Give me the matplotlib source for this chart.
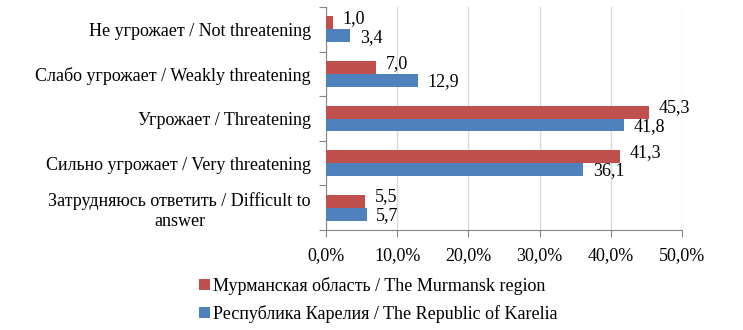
import matplotlib
matplotlib.use("Agg")
import matplotlib.pyplot as plt
import numpy as np

categories = ["Не угрожает / Not threatening",
              "Слабо угрожает / Weakly threatening",
              "Угрожает / Threatening",
              "Сильно угрожает / Very threatening",
              "Затрудняюсь ответить / Difficult to\nanswer"]
murmansk = [1.0, 7.0, 45.3, 41.3, 5.5]
karelia = [3.4, 12.9, 41.8, 36.1, 5.7]
series_names = ["Мурманская область / The Murmansk region",
                "Республика Карелия / The Republic of Karelia"]
xticks = [0, 10, 20, 30, 40, 50]

plt.rcParams['font.family'] = ['Liberation Serif', 'DejaVu Serif']
fs = 13
red = '#C0504D'
blue = '#4F81BD'
gray = '#868686'

fig = plt.figure(figsize=(7.43, 3.30), dpi=100)
ax = fig.add_axes([326/743, 1-230/330, (682-326)/743, (230-7)/330])

y = np.arange(len(categories))
h = 0.29
b1 = ax.barh(y - h/2, murmansk, height=h, color=red, label=series_names[0], zorder=3)
b2 = ax.barh(y + h/2, karelia, height=h, color=blue, label=series_names[1], zorder=3)

for yi, v in zip(y, murmansk):
    ax.annotate(f"{v:.1f}".replace('.', ','), (v, yi - h/2), xytext=(7, 3),
                textcoords='offset points', va='center', ha='left', fontsize=fs)
for yi, v in zip(y, karelia):
    ax.annotate(f"{v:.1f}".replace('.', ','), (v, yi + h/2), xytext=(7, -1),
                textcoords='offset points', va='center', ha='left', fontsize=fs)

ax.set_xlim(0, 50)
ax.set_ylim(4.5, -0.5)
ax.set_xticks(xticks)
ax.set_xticklabels([f"{t:.1f}%".replace('.', ',') for t in xticks], fontsize=fs)
ax.set_yticks(np.arange(-0.5, 5, 1.0))
ax.set_yticklabels([])
ax.set_yticks(y, minor=True)
ax.set_yticklabels(categories, minor=True, fontsize=fs, multialignment='center')
ax.tick_params(axis='y', which='minor', length=0, pad=11)
ax.tick_params(axis='y', which='major', length=5, color=gray, direction='out')
ax.tick_params(axis='x', length=5, color=gray, direction='out', pad=7)
ax.grid(axis='x', color='#D9D9D9', linewidth=1, zorder=0)
for s in ['top', 'right']:
    ax.spines[s].set_visible(False)
for s in ['left', 'bottom']:
    ax.spines[s].set_color(gray)

fig.legend(handles=[b1, b2], loc='upper left', bbox_to_anchor=(199/743, 1-277/330),
           frameon=False, fontsize=fs, handlelength=0.6, handleheight=0.6,
           handletextpad=0.2, labelspacing=0.55, borderpad=0, borderaxespad=0)

fig.savefig("out.png", dpi=100)
